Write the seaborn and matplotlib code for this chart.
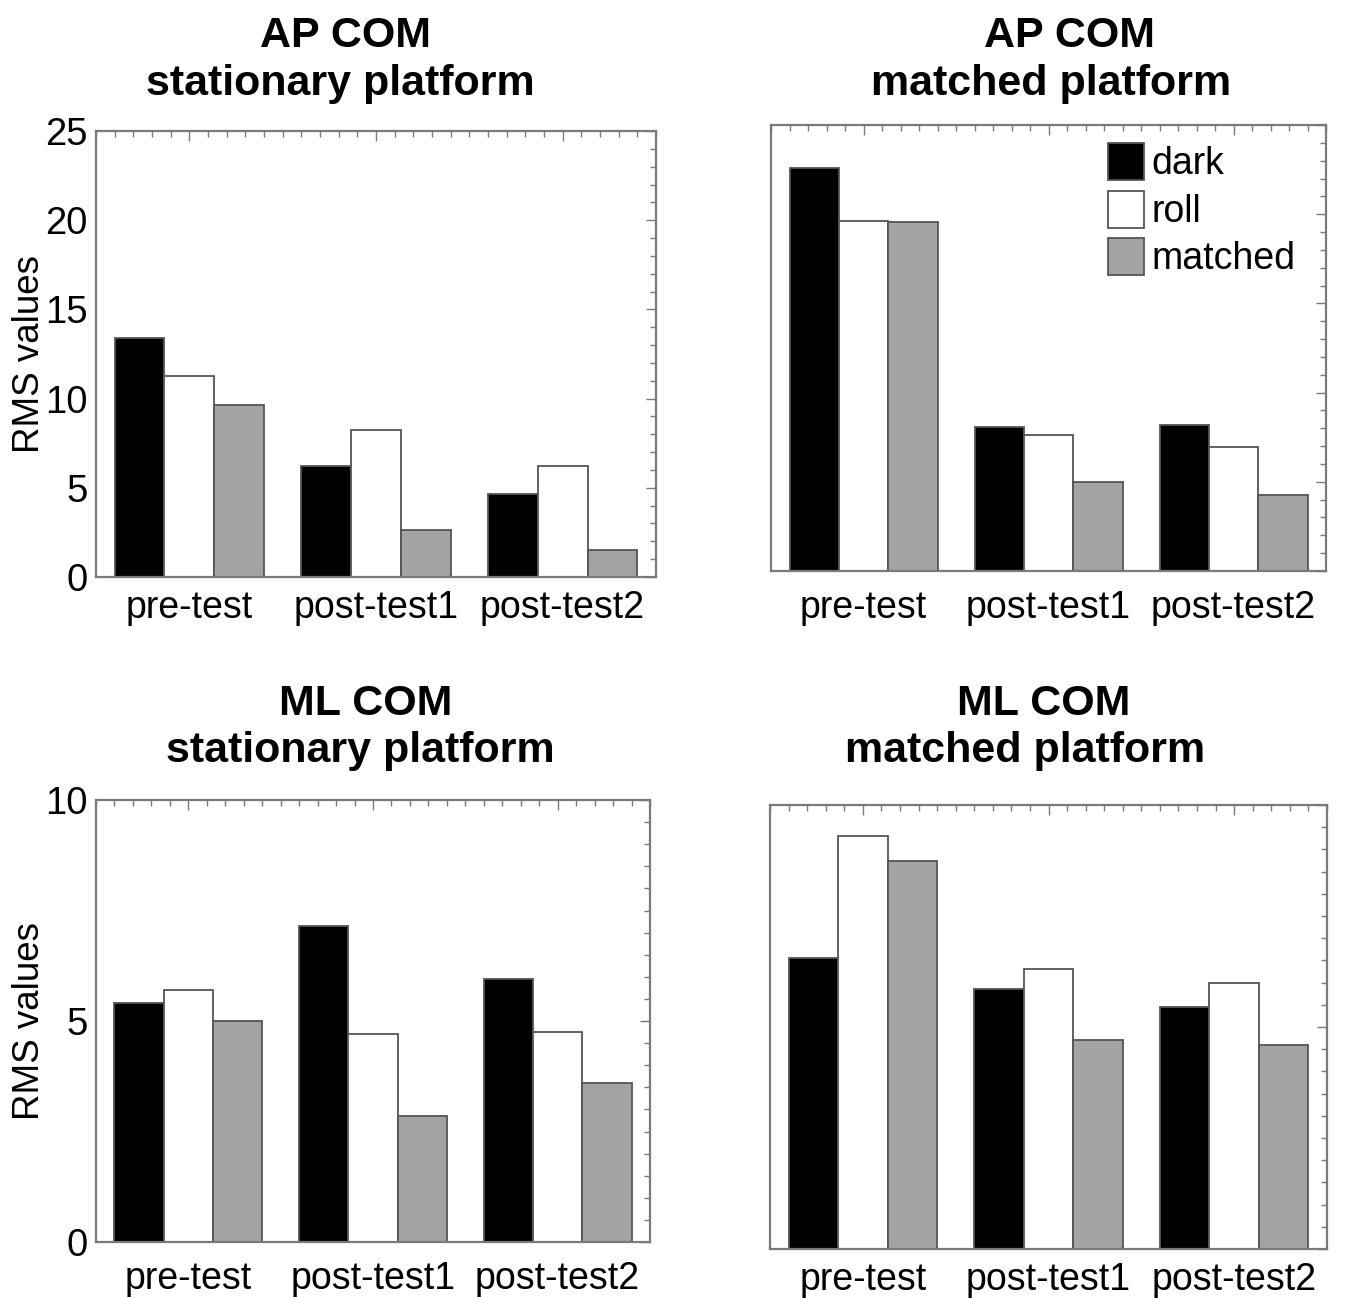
import numpy as np
import pandas as pd
import matplotlib
matplotlib.use("Agg")
import matplotlib.pyplot as plt
from matplotlib.ticker import MultipleLocator
import seaborn as sns

# ---------------- data ----------------
phases = ["pre-test", "post-test1", "post-test2"]
conditions = ["dark", "roll", "matched"]

ap_stationary_dark = [13.4, 6.2, 4.65]
ap_stationary_roll = [11.25, 8.25, 6.25]
ap_stationary_matched = [9.65, 2.65, 1.5]

ap_matched_dark = [22.6, 8.05, 8.2]
ap_matched_roll = [19.6, 7.65, 6.95]
ap_matched_matched = [19.55, 5.0, 4.25]

ml_stationary_dark = [5.4, 7.15, 5.95]
ml_stationary_roll = [5.7, 4.7, 4.75]
ml_stationary_matched = [5.0, 2.85, 3.6]

ml_matched_dark = [6.55, 5.85, 5.45]
ml_matched_roll = [9.3, 6.3, 6.0]
ml_matched_matched = [8.75, 4.7, 4.6]

titles = [("AP COM", "stationary platform"), ("AP COM", "matched platform"),
          ("ML COM", "stationary platform"), ("ML COM", "matched platform")]
ylabel_text = "RMS values"

colors = ["#000000", "#ffffff", "#a3a3a3"]


def make_df(dark, roll, matched):
    rows = []
    for cond, vals in zip(conditions, [dark, roll, matched]):
        for ph, v in zip(phases, vals):
            rows.append({"phase": ph, "cond": cond, "value": v})
    return pd.DataFrame(rows)


datasets = [
    make_df(ap_stationary_dark, ap_stationary_roll, ap_stationary_matched),
    make_df(ap_matched_dark, ap_matched_roll, ap_matched_matched),
    make_df(ml_stationary_dark, ml_stationary_roll, ml_stationary_matched),
    make_df(ml_matched_dark, ml_matched_roll, ml_matched_matched),
]

sns.set_theme(style="white")
plt.rcParams["font.family"] = ["Liberation Sans", "DejaVu Sans"]
plt.rcParams["text.color"] = "black"
plt.rcParams["axes.labelcolor"] = "black"
plt.rcParams["xtick.labelcolor"] = "black"
plt.rcParams["ytick.labelcolor"] = "black"

W, H = 1353, 1298
fig = plt.figure(figsize=(W / 100, H / 100), dpi=100)


def px_axes(x0, y0, x1, y1):
    return fig.add_axes([x0 / W, 1 - y1 / H, (x1 - x0) / W, (y1 - y0) / H])


axes_px = [(96, 131, 656, 577), (771, 125, 1326, 571),
           (96, 800, 650, 1242), (770, 805, 1327, 1249)]
ylims = [25, 25, 10, 10]
ymajor = [5, 5, 5, 5]
yminor = [1, 1, 0.5, 0.5]
xpads = [9, 14, 14, 9]

spine_col = "#7a7a7a"

for i, (df, box) in enumerate(zip(datasets, axes_px)):
    ax = px_axes(*box)
    sns.barplot(data=df, x="phase", y="value", hue="cond", order=phases,
                hue_order=conditions, palette=colors, saturation=1,
                edgecolor="#555555", linewidth=1.3, errorbar=None,
                width=0.8, ax=ax, legend=(i == 1))
    ax.set_xlim(-0.5, 2.5)
    ax.set_ylim(0, ylims[i])
    ax.set_xlabel("")
    ax.yaxis.set_major_locator(MultipleLocator(ymajor[i]))
    ax.yaxis.set_minor_locator(MultipleLocator(yminor[i]))
    ax.xaxis.set_minor_locator(MultipleLocator(0.1))
    for s in ax.spines.values():
        s.set_color(spine_col)
        s.set_linewidth(1.6)
        s.set_visible(True)
    ax.tick_params(axis="both", which="both", direction="in", top=True,
                   right=True, color=spine_col, width=1.0)
    ax.tick_params(axis="both", which="major", length=7)
    ax.tick_params(axis="both", which="minor", length=4)
    ax.tick_params(axis="x", which="major", labelsize=27, pad=xpads[i],
                   labelcolor="black")
    ax.tick_params(axis="y", which="major", labelsize=27.5, pad=6,
                   labelcolor="black")
    if i % 2 == 0:
        ax.set_ylabel(ylabel_text, fontsize=26.5, color="black")
        ax.yaxis.set_label_coords(-0.088, 0.5)
    else:
        ax.set_ylabel("")
        ax.set_yticklabels([])
    if i == 1:
        handles, labels = ax.get_legend_handles_labels()
        ax.legend(handles, labels, loc="upper left",
                  bbox_to_anchor=((1108 - 771) / 555, (571 - 143) / 446),
                  frameon=False, fontsize=27, handlelength=0.95,
                  handleheight=1.15, handletextpad=0.2, labelspacing=0.22,
                  borderpad=0, borderaxespad=0)

# titles (each line placed separately)
title_pos = [((345, 47), (340, 95)), ((1070, 47), (1051, 95)),
             ((366, 715), (360, 762)), ((1044, 715), (1025, 762))]
for (l1, l2), ((x1, y1), (x2, y2)) in zip(titles, title_pos):
    fig.text(x1 / W, 1 - y1 / H, l1, ha="center", va="baseline",
             fontsize=31, fontweight="bold", color="black")
    fig.text(x2 / W, 1 - y2 / H, l2, ha="center", va="baseline",
             fontsize=31, fontweight="bold", color="black")

fig.savefig("out.png", dpi=100, facecolor="white")
